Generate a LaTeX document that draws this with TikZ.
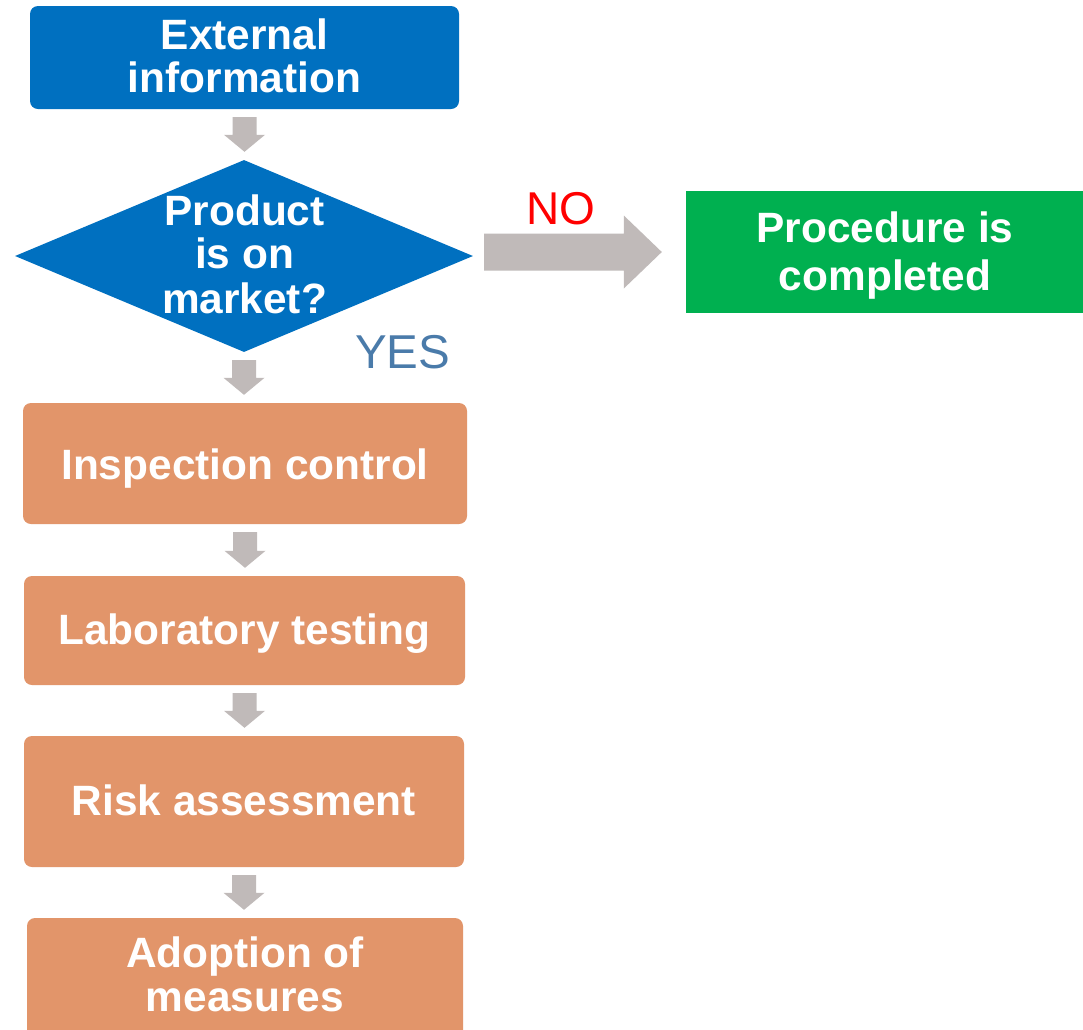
\documentclass[tikz,border=0pt]{standalone}
\usepackage{fontspec}
\setmainfont{Liberation Sans}
\usetikzlibrary{shapes.geometric,calc}
\definecolor{boxblue}{HTML}{0070C0}
\definecolor{boxorange}{HTML}{E2956A}
\definecolor{boxgreen}{HTML}{00B050}
\definecolor{arrgray}{HTML}{C0BAB9}
\definecolor{yesblue}{HTML}{4A7BAA}
\newcommand\blockdown[2]{%
  \fill[arrgray] let \p1=(#1.south), \p2=(#2.north) in
    (\x1-12,\y1-8) -- (\x1+12,\y1-8) -- (\x1+12,\y2+25) -- (\x1+20.5,\y2+25)
    -- (\x1,\y2+8) -- (\x1-20.5,\y2+25) -- (\x1-12,\y2+25) -- cycle;}
\tikzset{
  rbox/.style={rectangle, rounded corners=8pt, inner sep=0pt, draw=none},
  sbox/.style={rectangle, inner sep=0pt, draw=none},
  lbl/.style={anchor=base, inner sep=0pt, text=white, font=\fontsize{42.4}{44}\selectfont\bfseries},
}
\begin{document}
\begin{tikzpicture}[x=1pt, y=-1pt]
\clip (0,0) rectangle (1083,1029);
\fill[white] (0,0) rectangle (1083,1029);
% External information
\node[rbox, fill=boxblue, minimum width=429pt, minimum height=103pt] (ext) at (244.5,57.5) {};
\node[lbl] (ext1) at (244.5,49) {External};
\node[lbl] (ext2) at (244.5,92) {information};
% Decision
\node[diamond, fill=boxblue, inner sep=0pt, minimum width=458pt, minimum height=192pt] (dia) at (244,256) {};
\node[lbl] (dia1) at (244.5,225) {Product};
\node[lbl] (dia2) at (244.5,268) {is on};
\node[lbl] (dia3) at (244.5,313) {market?};
\node[anchor=base west, inner sep=0pt, text=yesblue, font=\fontsize{47.5}{48}\selectfont] (yes) at (355,368) {YES};
% Procedure is completed
\node[sbox, fill=boxgreen, minimum width=397pt, minimum height=122pt] (proc) at (884.5,252) {};
\node[lbl] (proc1) at (885,242) {Procedure is};
\node[lbl] (proc2) at (885,290) {completed};
\node[anchor=base west, inner sep=0pt, text=red, font=\fontsize{46}{46}\selectfont] (no) at (526,224) {NO};
% Orange boxes
\node[rbox, fill=boxorange, minimum width=444pt, minimum height=121pt] (insp) at (245,463.5) {};
\node[lbl] (insp1) at (245,479) {Inspection control};
\node[rbox, fill=boxorange, minimum width=441pt, minimum height=109pt] (lab) at (244.5,630.5) {};
\node[lbl] (lab1) at (244.5,644) {Laboratory testing};
\node[rbox, fill=boxorange, minimum width=440pt, minimum height=131pt] (risk) at (244,801.5) {};
\node[lbl] (risk1) at (244,815) {Risk assessment};
\node[rbox, fill=boxorange, minimum width=436pt, minimum height=122pt] (adopt) at (245,979) {};
\node[lbl] (adopt1) at (245,967) {Adoption of};
\node[lbl] (adopt2) at (245,1011) {measures};
% Down arrows
\blockdown{ext}{dia}
\blockdown{dia}{insp}
\blockdown{insp}{lab}
\blockdown{lab}{risk}
\blockdown{risk}{adopt}
% NO arrow
\fill[arrgray] let \p1=(dia.east), \p2=(proc.west) in
  (\x1+11,\y2+18.5) -- (\x2-62,\y2+18.5) -- (\x2-62,\y2+36.5) -- (\x2-24,\y2)
  -- (\x2-62,\y2-36.5) -- (\x2-62,\y2-18.5) -- (\x1+11,\y2-18.5) -- cycle;
\end{tikzpicture}
\end{document}
